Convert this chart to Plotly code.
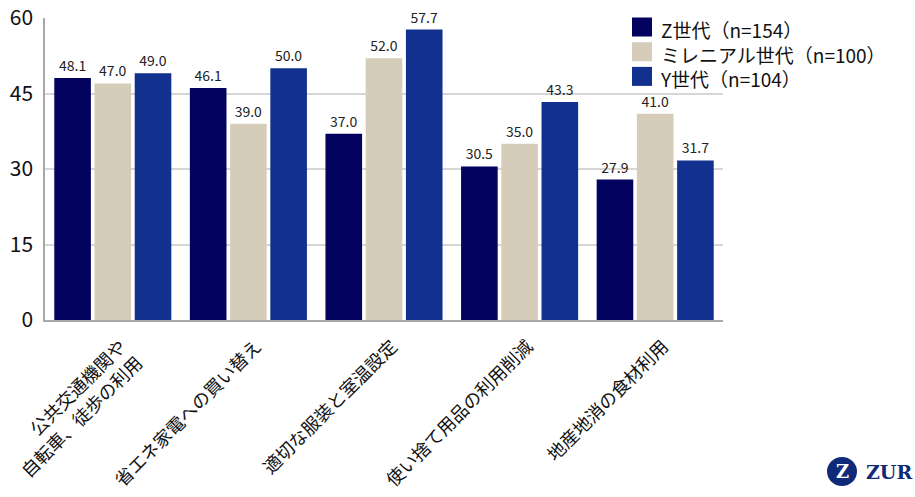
import plotly.graph_objects as go

categories = ["公共交通機関や<br>自転車、徒歩の利用", "省エネ家電への買い替え", "適切な服装と室温設定",
              "使い捨て用品の利用削減", "地産地消の食材利用"]
series_names = ["Z世代（n=154）", "ミレニアル世代（n=100）", "Y世代（n=104）"]
z_vals = [48.1, 46.1, 37.0, 30.5, 27.9]
m_vals = [47.0, 39.0, 52.0, 35.0, 41.0]
y_vals = [49.0, 50.0, 57.7, 43.3, 31.7]
y_ticks = [0, 15, 30, 45, 60]

colors = ["#03035f", "#d5cdb9", "#12318f"]
FONT = "Noto Sans CJK JP"

W, H = 915, 497
L, R, T, B = 45, 192, 18, 177
PW, PH = W - L - R, H - T - B


def px(xp):
    return (xp - L) / PW


def py(yp):
    return (H - B - yp) / PH


fig = go.Figure()
for name, vals, col in zip(series_names, [z_vals, m_vals, y_vals], colors):
    fig.add_trace(go.Bar(
        x=categories, y=vals, name=name, marker_color=col, marker_line_width=0,
        text=[f"{v:.1f}" for v in vals], textposition="outside",
        textfont=dict(size=14, color="#222222", family=FONT),
        cliponaxis=False, showlegend=False))

fig.update_layout(
    width=W, height=H,
    margin=dict(l=L, r=R, t=T, b=B, autoexpand=False),
    plot_bgcolor="white", paper_bgcolor="white",
    barmode="group", bargap=0.11, bargroupgap=0.09,
    font=dict(family=FONT, color="#111111"),
    showlegend=False,
    yaxis=dict(range=[0, 60], tickvals=y_ticks, showgrid=True, gridcolor="#d6d6d6",
               gridwidth=2, zeroline=False, showline=True, linecolor="#a8a8a8", linewidth=1.5,
               tickfont=dict(size=21, color="#111111", family=FONT), ticks="",
               ticklabelstandoff=6, automargin=False),
    xaxis=dict(tickangle=-45, tickfont=dict(size=18, color="#111111", family=FONT),
               showline=True, linecolor="#a8a8a8", linewidth=1.5, ticks="",
               ticklabelshift=8, ticklabelstandoff=7, automargin=False),
)

# manual legend: one multi-line text block with coloured squares
LEG_FS = 19
line_h = LEG_FS * 1.3
top_c = 27
fig.add_annotation(xref="paper", yref="paper", x=px(658), y=py(top_c - line_h / 2 - 1),
                   text="<br>".join(series_names), showarrow=False,
                   xanchor="left", yanchor="top", align="left",
                   font=dict(size=LEG_FS, color="#111111", family=FONT))
for i, col in enumerate(colors):
    yc = top_c + i * line_h
    fig.add_shape(type="rect", xref="paper", yref="paper",
                  x0=px(632), x1=px(652), y0=py(yc + 9.5), y1=py(yc - 9.5),
                  fillcolor=col, line_width=0)

# logo (the visible part, as in reference)
fig.add_shape(type="circle", xref="paper", yref="paper",
              x0=px(827), x1=px(857), y0=py(486), y1=py(457),
              fillcolor="#0f2a78", line_width=0)
fig.add_annotation(xref="paper", yref="paper", x=px(842), y=py(471.5),
                   text="<b>Z</b>", showarrow=False, xanchor="center", yanchor="middle",
                   font=dict(size=18, color="white", family="DejaVu Serif"))
fig.add_annotation(xref="paper", yref="paper", x=px(864), y=py(471.5),
                   text="<b>ZUR</b>", showarrow=False, xanchor="left", yanchor="middle",
                   font=dict(size=19, color="#0f2a78", family="DejaVu Serif"))

fig.write_html("out.html")
